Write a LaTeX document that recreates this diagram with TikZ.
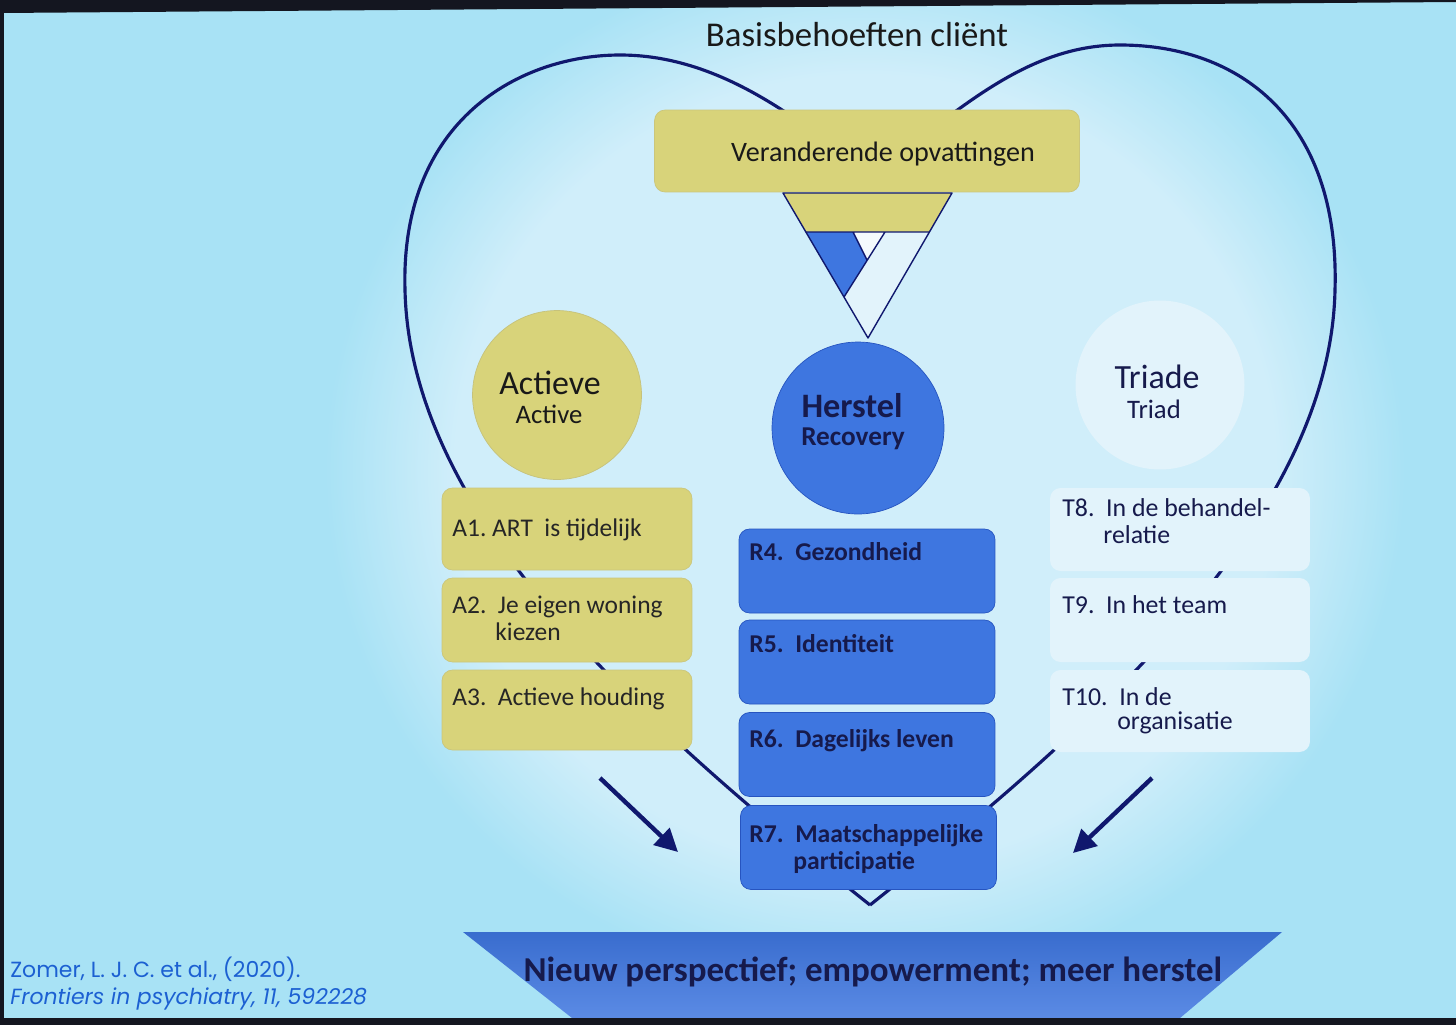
\documentclass[tikz,border=0pt]{standalone}
\usepackage{fontspec}
\setmainfont{Carlito}
\newfontfamily\citefont{Poppins}
\usetikzlibrary{arrows.meta}

\definecolor{slidebg}{RGB}{168,226,245}
\definecolor{glow}{RGB}{208,238,250}
\definecolor{navy}{RGB}{16,24,110}
\definecolor{ink}{RGB}{22,26,76}
\definecolor{khaki}{RGB}{216,211,122}
\definecolor{royal}{RGB}{62,118,224}
\definecolor{royaldark}{RGB}{38,84,192}
\definecolor{pale}{RGB}{226,243,251}
\definecolor{citeblue}{RGB}{28,96,210}
\definecolor{bezel}{RGB}{20,22,32}

\pgfdeclareradialshading{slideglow}{\pgfpoint{0bp}{0bp}}{color(0bp)=(glow); color(19bp)=(glow); color(25bp)=(slidebg); color(50bp)=(slidebg)}

\begin{document}
\begin{tikzpicture}
[x=0.02cm, y=-0.02cm, line join=round,
heart/.style={draw=navy, line width=1.8pt},
disc/.style={circle, inner sep=0pt, minimum size=3.38cm},
vbox/.style={fill=khaki, draw=khaki!85!gray, rounded corners=6pt, minimum width=8.5cm, minimum height=1.64cm},
abox/.style={fill=khaki, draw=khaki!85!gray, rounded corners=6pt, minimum width=5cm, minimum height=1.64cm},
rbox/.style={fill=royal, draw=royaldark, rounded corners=6pt, minimum width=5.12cm, minimum height=1.68cm},
tbox/.style={fill=pale, rounded corners=6pt, minimum width=5.2cm, minimum height=1.66cm},
atext/.style={anchor=base west, inner sep=0pt, text=black!85, font=\fontsize{14.5}{17}\selectfont},
rtext/.style={anchor=base west, inner sep=0pt, text=ink, font=\bfseries\fontsize{14.6}{17}\selectfont},
ttext/.style={anchor=base west, inner sep=0pt, text=ink, font=\fontsize{14.7}{17}\selectfont},
circbig/.style={anchor=base, inner sep=0pt, font=\fontsize{19.3}{22}\selectfont},
circsmall/.style={anchor=base, inner sep=0pt, font=\fontsize{15.2}{18}\selectfont},
push/.style={draw=navy, line width=2.5pt, -{Triangle[length=13pt,width=13pt]}}]

\useasboundingbox (0,0) rectangle (1456,1025);

% slide
\fill[slidebg] (0,0) rectangle (1456,1025);
\shade[shading=slideglow] (865,470) ellipse [x radius=10.8cm, y radius=10.4cm];

% heart
\draw[heart] (870,905) .. controls (650,730) and (410,520) .. (405,290)
  .. controls (400,120) and (520,55) .. (620,55)
  .. controls (720,55) and (800,120) .. (870,175)
  .. controls (950,120) and (1020,45) .. (1120,45)
  .. controls (1240,45) and (1340,120) .. (1335,290)
  .. controls (1330,520) and (1090,730) .. (870,905);

\node[circbig, font=\fontsize{19.8}{22}\selectfont, text=black!90] (basis) at (857,46) {Basisbehoeften cliënt};

% opvattingen + funnel
\node[vbox] (vo) at (867,151) {};
\node[circbig, font=\fontsize{16}{20}\selectfont, text=black!90] (vot) at (883,161) {Veranderende opvattingen};

\fill[khaki] (783,193) -- (952,193) -- (929,232) -- (806,232) -- cycle;
\fill[royal] (806,232) -- (853,232) -- (867,260) -- (844,297) -- cycle;
\fill[white!60!pale] (853,232) -- (885,232) -- (867,260) -- cycle;
\fill[pale] (885,232) -- (929,232) -- (868,338) -- (844,297) -- cycle;
\draw[navy, line width=0.8pt] (783,193) -- (952,193) -- (868,338) -- cycle;
\draw[navy, line width=0.8pt] (806,232) -- (929,232) (853,232) -- (867,260) (885,232) -- (844,297);

% circles
\node[disc, fill=khaki, draw=khaki!80!gray] (actieve) at (557,395) {};
\node[circbig, text=black!90] (actievet) at (550,394) {Actieve};
\node[circsmall, text=black!90] (activet) at (549,423) {Active};

\node[disc, minimum size=3.44cm, fill=royal, draw=royaldark] (herstel) at (858,428) {};
\node[circbig, text=ink, font=\bfseries\fontsize{19.5}{22}\selectfont] (herstelt) at (852,417) {Herstel};
\node[circsmall, text=ink, font=\bfseries\fontsize{15.5}{18}\selectfont] (recoveryt) at (853,445) {Recovery};

\node[disc, fill=pale] (triade) at (1160,385) {};
\node[circbig, text=ink] (triadet) at (1157,388) {Triade};
\node[circsmall, text=ink] (triadt) at (1154,418) {Triad};

% A column
\node[abox] (a1) at (567,529) {};
\node[abox, minimum height=1.68cm] (a2) at (567,620) {};
\node[abox, minimum height=1.6cm] (a3) at (567,710) {};
\node[atext] (a1t) at (452,536) {A1.~ART~ is tijdelijk};
\node[atext] (a2t) at (452,613) {A2.~~Je eigen woning};
\node[atext] (a2u) at (495,640) {kiezen};
\node[atext] (a3t) at (452,705) {A3.~~Actieve houding};

% R column
\node[rbox] (r4) at (867,571) {};
\node[rbox] (r5) at (867,662) {};
\node[rbox] (r6) at (867,754.5) {};
\node[rbox] (r7) at (868.5,847.5) {};
\node[rtext] (r4t) at (749,560) {R4.~~Gezondheid};
\node[rtext] (r5t) at (749,652) {R5.~~Identiteit};
\node[rtext] (r6t) at (749,747) {R6.~~Dagelijks leven};
\node[rtext] (r7t) at (749,842) {R7.~~Maatschappelijke};
\node[rtext] (r7u) at (793,869) {participatie};

% T column
\node[tbox] (t8) at (1180,529.5) {};
\node[tbox, minimum height=1.68cm] (t9) at (1180,620) {};
\node[tbox, minimum height=1.64cm] (t10) at (1180,711) {};
\node[ttext] (t8t) at (1062,516) {T8.~~In de behandel-};
\node[ttext] (t8u) at (1103,543) {relatie};
\node[ttext] (t9t) at (1062,613) {T9.~~In het team};
\node[ttext] (t10t) at (1062,705) {T10.~~In de};
\node[ttext] (t10u) at (1117,729) {organisatie};

% arrows
\coordinate (ls) at (600,778);
\coordinate (le) at (678,852);
\coordinate (rs) at (1152,778);
\coordinate (re) at (1073,853);
\draw[push] (ls) -- (le);
\draw[push] (rs) -- (re);

% result
\shade[top color=royal!92!black, bottom color=royal!85!white] (463,932) -- (1282,932) -- (1180,1018) -- (572,1018) -- cycle;
\node[circbig, text=ink, font=\bfseries\fontsize{19.9}{22}\selectfont] (result) at (873,981) {Nieuw perspectief; empowerment; meer herstel};

% source
\node[anchor=base west, inner sep=0pt, text=citeblue, font=\citefont\fontsize{12.5}{14}\selectfont] (cite1) at (10,977) {Zomer, L. J. C. et al., (2020).};
\node[anchor=base west, inner sep=0pt, text=citeblue, font=\citefont\itshape\fontsize{12.5}{14}\selectfont] (cite2) at (10,1004) {Frontiers in psychiatry, 11, 592228};

% screen edge
\fill[bezel] (0,0) -- (1456,0) -- (1456,2) -- (0,13) -- cycle;
\fill[bezel] (0,0) rectangle (4,1025);
\fill[bezel] (0,1018) rectangle (1456,1025);
\end{tikzpicture}
\end{document}
